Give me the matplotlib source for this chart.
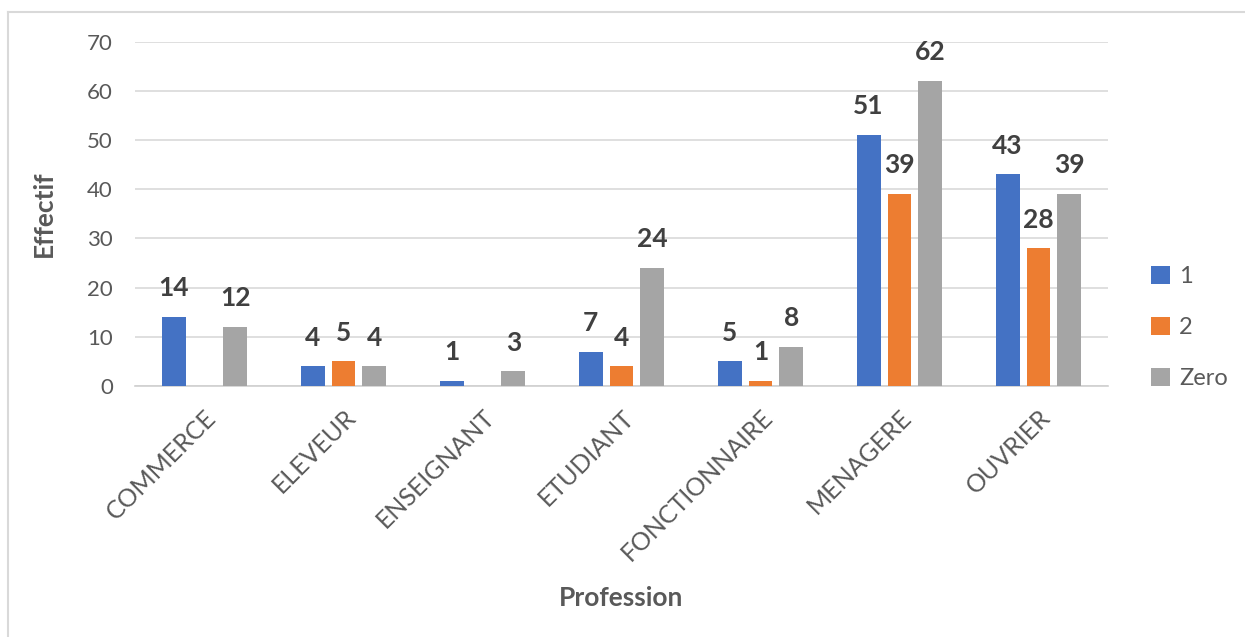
import matplotlib
matplotlib.use('Agg')
import matplotlib.pyplot as plt
from matplotlib.lines import Line2D
import numpy as np

plt.rcParams['font.family'] = ['Lato', 'DejaVu Sans']

# data (NaN = no bar)
professions = ['COMMERCE', 'ELEVEUR', 'ENSEIGNANT', 'ETUDIANT',
               'FONCTIONNAIRE', 'MENAGERE', 'OUVRIER']
serie_1 = [14, 4, 1, 7, 5, 51, 43]
serie_2 = [np.nan, 5, np.nan, 4, 1, 39, 28]
serie_zero = [12, 4, 3, 24, 8, 62, 39]
series_names = ['1', '2', 'Zero']
colors = ['#4472C4', '#ED7D31', '#A5A5A5']

fig = plt.figure(figsize=(12.45, 6.37), dpi=100)
ax = fig.add_axes([135 / 1245, 1 - 386 / 637, (1108 - 135) / 1245, (386 - 41.5) / 637])

x = np.arange(len(professions))
width = 0.172
step = 0.2225
all_series = [serie_1, serie_2, serie_zero]
bars = []
for i, (vals, name, col) in enumerate(zip(all_series, series_names, colors)):
    b = ax.bar(x + (i - 1) * step, vals, width, color=col, label=name, zorder=3)
    bars.append(b)
    for xi, v in zip(x + (i - 1) * step, vals):
        if np.isnan(v):
            continue
        ax.annotate(str(int(v)), (xi, v), xytext=(0, 12), textcoords='offset points',
                    ha='center', va='bottom', fontsize=19, fontweight='bold',
                    color='#404040')

ax.set_xlim(-0.5, len(professions) - 0.5)
ax.set_ylim(0, 70)
ax.set_yticks(range(0, 71, 10))
ax.yaxis.grid(True, color='#D9D9D9', linewidth=1.2, zorder=0)
ax.set_axisbelow(True)
for s in ['top', 'right', 'left']:
    ax.spines[s].set_visible(False)
ax.spines['bottom'].set_color('#D0D0D0')
ax.spines['bottom'].set_linewidth(1.2)
ax.tick_params(axis='both', length=0, labelsize=16, colors='#595959')
ax.tick_params(axis='y', pad=16)
ax.set_xticks(x)
ax.set_xticklabels(professions, rotation=45, ha='right', rotation_mode='anchor',
                   fontsize=18)
ax.tick_params(axis='x', pad=14)

ax.set_ylabel('Effectif', fontsize=19, fontweight='bold', color='#595959', labelpad=22)
ax.set_xlabel('Profession', fontsize=19, fontweight='bold', color='#595959')
ax.xaxis.set_label_coords(0.5, -0.58)

leg = fig.legend(handles=bars, labels=series_names, loc='upper left',
                 bbox_to_anchor=(1151 / 1245, 1 - 266 / 637), frameon=False,
                 borderpad=0, borderaxespad=0,
                 fontsize=17, handlelength=0.8, handleheight=0.8,
                 handletextpad=0.4, labelspacing=1.26, labelcolor='#595959')

# outer chart border (left and top visible)
fig.add_artist(Line2D([8 / 1245, 8 / 1245], [0, 1 - 12 / 637], transform=fig.transFigure,
                      color='#D9D9D9', linewidth=1.5))
fig.add_artist(Line2D([8 / 1245, 1], [1 - 12 / 637, 1 - 12 / 637], transform=fig.transFigure,
                      color='#D9D9D9', linewidth=1.5))

fig.savefig('out.png', dpi=100)
